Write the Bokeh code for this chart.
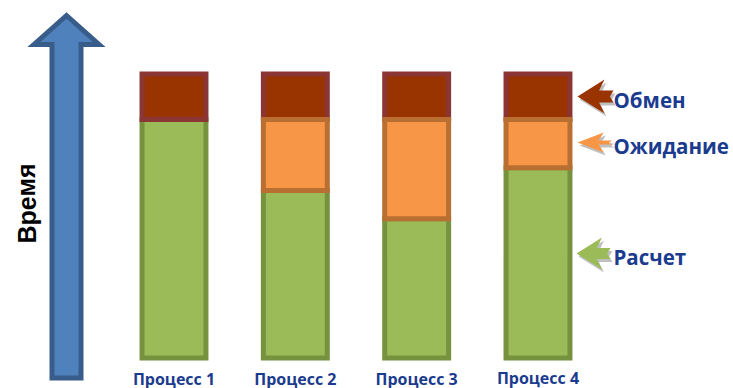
from bokeh.plotting import figure
from bokeh.models import Range1d, ColumnDataSource
from bokeh.core.properties import value
from bokeh.embed import file_html
from bokeh.resources import INLINE

# --- data -------------------------------------------------------------
processes = ["Процесс 1", "Процесс 2", "Процесс 3", "Процесс 4"]
compute = [8.4, 5.9, 4.9, 6.7]      # Расчет
waiting = [0.0, 2.5, 3.5, 1.7]      # Ожидание
exchange = [1.6, 1.6, 1.6, 1.6]     # Обмен
legend_labels = ["Обмен", "Ожидание", "Расчет"]
axis_label = "Время"

# --- colours ----------------------------------------------------------
GREEN, GREEN_LINE = "#9bbb59", "#77923f"
ORANGE, ORANGE_LINE = "#f79646", "#b96f32"
RED, RED_LINE = "#993300", "#8c3535"
BLUE, BLUE_LINE = "#4f81bd", "#385d8a"
TEXT_BLUE = "#1b3b8f"

W, H = 733, 388
PX_PER_UNIT = 28.4          # vertical scale of the time axis
BASE_PX = 357.5             # screen row of time zero
SLOT_PX = 121.33            # spacing between process columns
FIRST_PX = 173.5            # screen column of the first process


def yd(py):
    """screen row -> time units"""
    return (BASE_PX - py) / PX_PER_UNIT


def xd(px):
    """screen column -> process slot units"""
    return (px - FIRST_PX) / SLOT_PX


p = figure(width=W, height=H, output_backend="svg", toolbar_location=None,
           x_range=Range1d(xd(0), xd(W)), y_range=Range1d(yd(H), yd(0)),
           min_border=0)
p.axis.visible = False
p.grid.visible = False
p.outline_line_color = None
p.background_fill_color = "white"

# --- stacked bars -----------------------------------------------------
xs = list(range(len(processes)))
g_top = compute
o_top = [c + w for c, w in zip(compute, waiting)]
r_top = [t + e for t, e in zip(o_top, exchange)]
src = ColumnDataSource(dict(x=xs, g0=[0] * 4, g1=g_top, o1=o_top, r1=r_top))
BW = 0.527
p.vbar(x="x", bottom="g0", top="g1", width=BW, source=src,
       fill_color=GREEN, line_color=GREEN_LINE, line_width=5, line_join="miter")
p.vbar(x="x", bottom="o1", top="r1", width=BW, source=src,
       fill_color=RED, line_color=RED_LINE, line_width=5, line_join="miter")
wsrc = ColumnDataSource(dict(x=[x for x, w in zip(xs, waiting) if w > 0],
                             b=[g for g, w in zip(g_top, waiting) if w > 0],
                             t=[o for o, w in zip(o_top, waiting) if w > 0]))
p.vbar(x="x", bottom="b", top="t", width=BW, source=wsrc,
       fill_color=ORANGE, line_color=ORANGE_LINE, line_width=5, line_join="miter")

# process names under the columns
p.text(x=xs, y=[yd(378)] * 3 + [yd(377)], text=processes,
       text_align="center", text_baseline="middle",
       text_font=value("Open Sans"), text_font_style="bold",
       text_font_size="16px", text_color=TEXT_BLUE)

# --- big time arrow on the left --------------------------------------
ax = [51.5, 51.5, 33.5, 66, 98.5, 80.5, 80.5]
ay = [377.5, 44, 44, 15, 44, 44, 377.5]
p.patch([xd(v) for v in ax], [yd(v) for v in ay], fill_color=BLUE,
        line_color=BLUE_LINE, line_width=5, line_join="miter")
p.text(x=[xd(26)], y=[yd(203)], text=[axis_label], angle=1.5708,
       text_align="center", text_baseline="middle",
       text_font=value("Liberation Sans"), text_font_style="bold",
       text_font_size="25px", text_color="black")


# --- pointer arrows with labels on the right --------------------------
def pointer(tx, ty, length, half, shaft, color):
    pts = [(0, 0), (0.75, -1), (0.6, -shaft), (1.0, -shaft), (0.9, 0),
           (1.0, shaft), (0.6, shaft), (0.75, 1)]
    px = [tx + u * length for u, v in pts]
    py = [ty + v * half for u, v in pts]
    p.patch([xd(v + 2) for v in px], [yd(v + 3) for v in py],
            fill_color="#8a8a8a", fill_alpha=0.55, line_color=None)
    p.patch([xd(v) for v in px], [yd(v) for v in py],
            fill_color=color, line_color=None)


pointer(577, 96, 36, 17, 0.35, RED)
pointer(577, 142, 35, 10, 0.2, ORANGE)
pointer(576, 253, 34, 16, 0.35, GREEN)

p.text(x=[xd(613)] * 3, y=[yd(99), yd(145), yd(256)], text=legend_labels,
       text_align="left", text_baseline="middle",
       text_font=value("Open Sans"), text_font_style="bold",
       text_font_size="20.5px", text_color=TEXT_BLUE)

open("out.html", "w").write(file_html(p, INLINE))
